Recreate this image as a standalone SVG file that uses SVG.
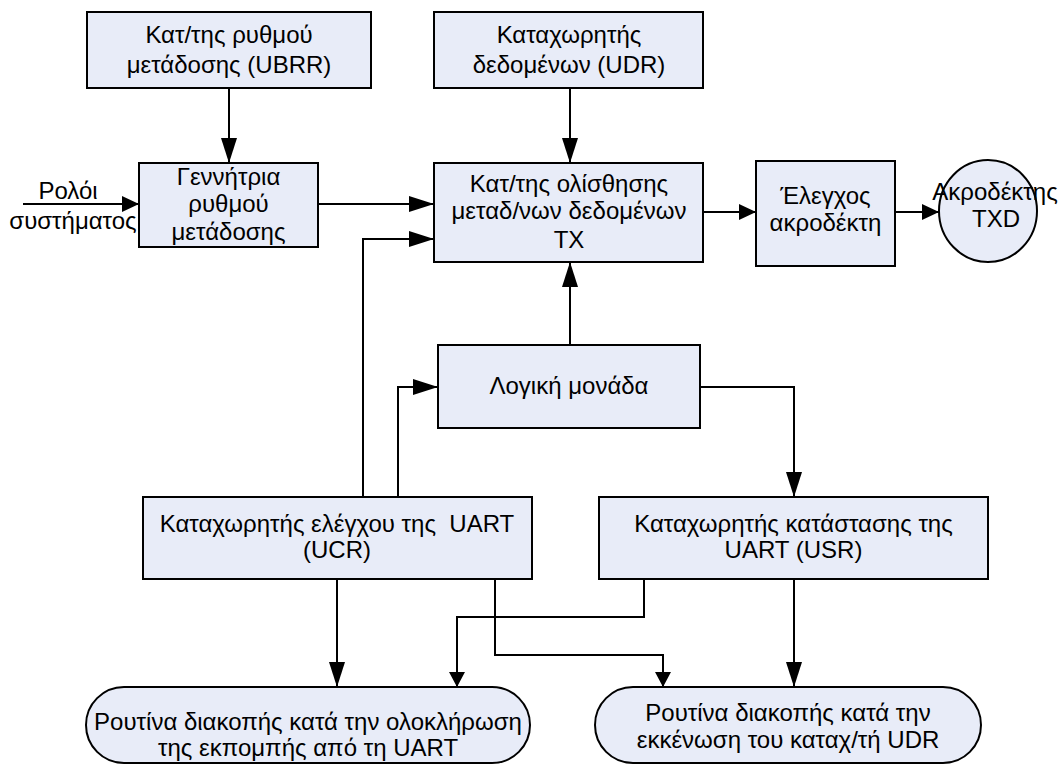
<svg xmlns="http://www.w3.org/2000/svg" width="1064" height="765" viewBox="0 0 1064 765">
<style>
.box{fill:#E8ECF8;stroke:#000;stroke-width:2}
.t{font-family:"Liberation Sans",Arial,sans-serif;font-size:24px;fill:#000;text-anchor:middle}
.c{fill:none;stroke:#000;stroke-width:2}
</style>
<defs>
<marker id="aL" viewBox="0 0 25 16" markerWidth="25" markerHeight="16" refX="25" refY="8" orient="auto" markerUnits="userSpaceOnUse"><path d="M0,0 L25,8 L0,16 z" fill="#000"/></marker>
<marker id="aM" viewBox="0 0 17 16" markerWidth="17" markerHeight="16" refX="17" refY="8" orient="auto" markerUnits="userSpaceOnUse"><path d="M0,0 L17,8 L0,16 z" fill="#000"/></marker>
<marker id="aS" viewBox="0 0 15 16" markerWidth="15" markerHeight="16" refX="15" refY="8" orient="auto" markerUnits="userSpaceOnUse"><path d="M0,0 L15,8 L0,16 z" fill="#000"/></marker>
</defs>
<rect width="1064" height="765" fill="#fff"/>
<g id="connectors">
<path class="c" d="M229,88 V163" marker-end="url(#aL)"/>
<path class="c" d="M570,88 V163" marker-end="url(#aL)"/>
<path class="c" d="M23,204 H139" marker-end="url(#aM)"/>
<path class="c" d="M318,204 H434" marker-end="url(#aL)"/>
<path class="c" d="M363,497 V239 H434" marker-end="url(#aL)"/>
<path class="c" d="M398,497 V387 H438" marker-end="url(#aL)"/>
<path class="c" d="M570,345 V262" marker-end="url(#aL)"/>
<path class="c" d="M700,387 H794 V497" marker-end="url(#aL)"/>
<path class="c" d="M703,212 H756" marker-end="url(#aM)"/>
<path class="c" d="M895,212 H939" marker-end="url(#aM)"/>
<path class="c" d="M337,579 V687" marker-end="url(#aL)"/>
<path class="c" d="M644,579 V617 H457 V687" marker-end="url(#aS)"/>
<path class="c" d="M495,579 V655 H663 V687" marker-end="url(#aS)"/>
<path class="c" d="M794,579 V687" marker-end="url(#aL)"/>
</g>
<g id="ubrr"><rect class="box" x="87" y="12" width="284" height="76"/>
<text class="t" x="229" y="43">Κατ/της ρυθμού</text><text class="t" x="229" y="73">μετάδοσης (UBRR)</text></g>
<g id="udr"><rect class="box" x="434" y="12" width="269" height="76"/>
<text class="t" x="569" y="43">Καταχωρητής</text><text class="t" x="569" y="73">δεδομένων (UDR)</text></g>
<g id="clock"><text class="t" x="68" y="199">Ρολόι</text><text class="t" x="73" y="229">συστήματος</text></g>
<g id="gen"><rect class="box" x="139" y="163" width="179" height="84"/>
<text class="t" x="228.5" y="185">Γεννήτρια</text><text class="t" x="228.5" y="212">ρυθμού</text><text class="t" x="228.5" y="240">μετάδοσης</text></g>
<g id="tx"><rect class="box" x="434" y="163" width="269" height="99"/>
<text class="t" x="569" y="192">Κατ/της ολίσθησης</text><text class="t" x="569" y="219">μεταδ/νων δεδομένων</text><text class="t" x="569" y="248">TX</text></g>
<g id="pinctrl"><rect class="box" x="756" y="161" width="139" height="105"/>
<text class="t" x="825.5" y="204">Έλεγχος</text><text class="t" x="825.5" y="231">ακροδέκτη</text></g>
<g id="txd"><ellipse class="box" cx="988" cy="211" rx="49" ry="51"/>
<text class="t" x="995" y="200">Ακροδέκτης</text><text class="t" x="996" y="227">TXD</text></g>
<g id="logic"><rect class="box" x="438" y="345" width="262" height="83"/>
<text class="t" x="569" y="394">Λογική μονάδα</text></g>
<g id="ucr"><rect class="box" x="143" y="497" width="389" height="82"/>
<text class="t" x="337" y="532" xml:space="preserve">Καταχωρητής ελέγχου της  UART</text><text class="t" x="337" y="558">(UCR)</text></g>
<g id="usr"><rect class="box" x="599" y="497" width="389" height="82"/>
<text class="t" x="793.5" y="532">Καταχωρητής κατάστασης της</text><text class="t" x="793.5" y="558">UART (USR)</text></g>
<g id="isr1"><rect class="box" x="86" y="687" width="444" height="76" rx="38" ry="38"/>
<text class="t" x="308" y="730">Ρουτίνα διακοπής κατά την ολοκλήρωση</text><text class="t" x="308" y="756">της εκπομπής από τη UART</text></g>
<g id="isr2"><rect class="box" x="595" y="687" width="386" height="76" rx="38" ry="38"/>
<text class="t" x="788" y="721">Ρουτίνα διακοπής κατά την</text><text class="t" x="788" y="748">εκκένωση του καταχ/τή UDR</text></g>
</svg>
